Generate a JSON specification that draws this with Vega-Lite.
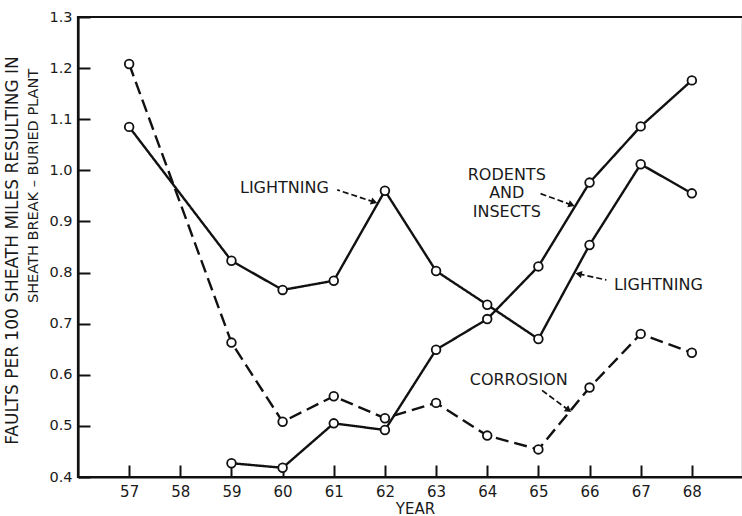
{
  "$schema": "https://vega.github.io/schema/vega-lite/v6.json",
  "width": 665,
  "height": 460,
  "autosize": "none",
  "padding": {"left": 78, "top": 17, "right": 0, "bottom": 39},
  "background": "white",
  "config": {
    "font": "DejaVu Sans",
    "view": {"stroke": "#111", "strokeWidth": 2.2},
    "axis": {
      "grid": false,
      "domainColor": "#111",
      "domainWidth": 2.2,
      "tickColor": "#111",
      "tickWidth": 2,
      "tickSize": -12,
      "labelColor": "#1a1a1a",
      "titleColor": "#1a1a1a",
      "labelFont": "DejaVu Sans",
      "titleFont": "DejaVu Sans",
      "titleFontWeight": "normal"
    }
  },
  "datasets": {
    "series": [
      {"series": "Lightning", "year": 57, "value": 1.085},
      {"series": "Lightning", "year": 59, "value": 0.823},
      {"series": "Lightning", "year": 60, "value": 0.766},
      {"series": "Lightning", "year": 61, "value": 0.784},
      {"series": "Lightning", "year": 62, "value": 0.96},
      {"series": "Lightning", "year": 63, "value": 0.803},
      {"series": "Lightning", "year": 64, "value": 0.737},
      {"series": "Lightning", "year": 65, "value": 0.67},
      {"series": "Lightning", "year": 66, "value": 0.854},
      {"series": "Lightning", "year": 67, "value": 1.012},
      {"series": "Lightning", "year": 68, "value": 0.955},
      {"series": "Corrosion", "year": 57, "value": 1.208},
      {"series": "Corrosion", "year": 59, "value": 0.663},
      {"series": "Corrosion", "year": 60, "value": 0.508},
      {"series": "Corrosion", "year": 61, "value": 0.558},
      {"series": "Corrosion", "year": 62, "value": 0.515},
      {"series": "Corrosion", "year": 63, "value": 0.545},
      {"series": "Corrosion", "year": 64, "value": 0.481},
      {"series": "Corrosion", "year": 65, "value": 0.454},
      {"series": "Corrosion", "year": 66, "value": 0.575},
      {"series": "Corrosion", "year": 67, "value": 0.68},
      {"series": "Corrosion", "year": 68, "value": 0.643},
      {"series": "Rodents and insects", "year": 59, "value": 0.427},
      {"series": "Rodents and insects", "year": 60, "value": 0.418},
      {"series": "Rodents and insects", "year": 61, "value": 0.505},
      {"series": "Rodents and insects", "year": 62, "value": 0.492},
      {"series": "Rodents and insects", "year": 63, "value": 0.649},
      {"series": "Rodents and insects", "year": 64, "value": 0.709},
      {"series": "Rodents and insects", "year": 65, "value": 0.812},
      {"series": "Rodents and insects", "year": 66, "value": 0.976},
      {"series": "Rodents and insects", "year": 67, "value": 1.086},
      {"series": "Rodents and insects", "year": 68, "value": 1.176}
    ],
    "notes": [
      {"text": "LIGHTNING", "year": 60.035, "value": 0.9656},
      {"text": "RODENTS", "year": 64.382, "value": 0.991},
      {"text": "AND", "year": 64.382, "value": 0.9558},
      {"text": "INSECTS", "year": 64.382, "value": 0.9186},
      {"text": "LIGHTNING", "year": 67.345, "value": 0.7757},
      {"text": "CORROSION", "year": 64.616, "value": 0.5898}
    ],
    "arrows": [
      {"id": "A1", "year": 61.789, "value": 0.938, "year2": 61.068, "value2": 0.9617},
      {"id": "A2", "year": 65.649, "value": 0.9323, "year2": 65.006, "value2": 0.9558},
      {"id": "A3", "year": 65.786, "value": 0.7973, "year2": 66.331, "value2": 0.7855},
      {"id": "A4", "year": 65.591, "value": 0.531, "year2": 65.064, "value2": 0.57}
    ],
    "ytitle2": [
      {"text": "SHEATH BREAK – BURIED PLANT", "year": 55.142, "value": 0.9695}
    ]
  },
  "encoding": {
    "x": {
      "field": "year",
      "type": "quantitative",
      "scale": {"domain": [56, 69], "nice": false, "zero": false},
      "axis": {
        "values": [57, 58, 59, 60, 61, 62, 63, 64, 65, 66, 67, 68],
        "format": "d",
        "labelFontSize": 15,
        "labelPadding": 19,
        "title": "YEAR",
        "titleFontSize": 15,
        "titleX": 337,
        "titleY": 31,
        "titleAlign": "center",
        "titleBaseline": "middle"
      }
    },
    "y": {
      "field": "value",
      "type": "quantitative",
      "scale": {"domain": [0.4, 1.3], "nice": false, "zero": false},
      "axis": {
        "values": [0.4, 0.5, 0.6, 0.7, 0.8, 0.9, 1.0, 1.1, 1.2, 1.3],
        "format": ".1f",
        "labelFontSize": 14.5,
        "labelPadding": 18,
        "title": "FAULTS PER 100 SHEATH MILES RESULTING IN",
        "titleFontSize": 17,
        "titleX": -66,
        "titleY": 233,
        "titleAngle": -90,
        "titleAlign": "center",
        "titleBaseline": "middle"
      }
    }
  },
  "layer": [
    {
      "data": {"name": "series"},
      "mark": {"type": "line", "color": "#111", "strokeWidth": 2.4},
      "encoding": {
        "detail": {"field": "series", "type": "nominal"},
        "strokeDash": {
          "field": "series",
          "type": "nominal",
          "scale": {"domain": ["Lightning", "Corrosion", "Rodents and insects"], "range": [[1, 0], [13, 6], [1, 0]]},
          "legend": null
        }
      }
    },
    {
      "data": {"name": "series"},
      "mark": {"type": "point", "shape": "circle", "filled": true, "fill": "white", "stroke": "#111", "strokeWidth": 1.8, "size": 75, "opacity": 1},
      "encoding": {}
    },
    {
      "data": {"name": "arrows"},
      "mark": {"type": "rule", "color": "#111", "strokeWidth": 1.7, "strokeDash": [6, 3]},
      "encoding": {
        "x2": {"field": "year2"},
        "y2": {"field": "value2"}
      }
    },
    {
      "data": {"name": "arrows"},
      "transform": [{"filter": "datum.id === 'A1'"}],
      "mark": {"type": "point", "shape": "triangle-up", "filled": true, "color": "#111", "size": 55, "opacity": 1, "angle": 108},
      "encoding": {}
    },
    {
      "data": {"name": "arrows"},
      "transform": [{"filter": "datum.id === 'A2'"}],
      "mark": {"type": "point", "shape": "triangle-up", "filled": true, "color": "#111", "size": 55, "opacity": 1, "angle": 110},
      "encoding": {}
    },
    {
      "data": {"name": "arrows"},
      "transform": [{"filter": "datum.id === 'A3'"}],
      "mark": {"type": "point", "shape": "triangle-up", "filled": true, "color": "#111", "size": 55, "opacity": 1, "angle": 282},
      "encoding": {}
    },
    {
      "data": {"name": "arrows"},
      "transform": [{"filter": "datum.id === 'A4'"}],
      "mark": {"type": "point", "shape": "triangle-up", "filled": true, "color": "#111", "size": 55, "opacity": 1, "angle": 126},
      "encoding": {}
    },
    {
      "data": {"name": "notes"},
      "mark": {"type": "text", "fontSize": 16, "color": "#1a1a1a", "align": "center", "baseline": "middle"},
      "encoding": {"text": {"field": "text"}}
    },
    {
      "data": {"name": "ytitle2"},
      "mark": {"type": "text", "fontSize": 14.5, "color": "#1a1a1a", "align": "center", "baseline": "middle", "angle": 270},
      "encoding": {"text": {"field": "text"}}
    }
  ]
}
